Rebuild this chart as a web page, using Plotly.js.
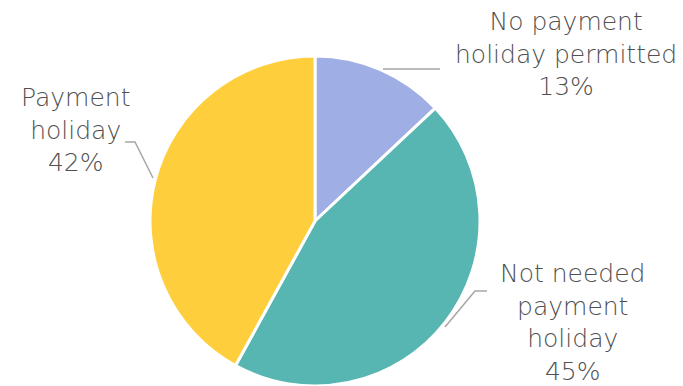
<!DOCTYPE html>
<html>
<head>
<meta charset="utf-8">
<script src="https://cdn.plot.ly/plotly-3.0.1.min.js"></script>
<style>html,body{margin:0;padding:0;background:#fff;}#chart{width:683px;height:386px;}</style>
</head>
<body>
<div id="chart"></div>
<script>
var categories = ["No payment holiday permitted", "Not needed payment holiday", "Payment holiday"];
var labelLines = ["No payment<br>holiday permitted", "Not needed<br>payment<br>holiday", "Payment<br>holiday"];
var values = [13, 45, 42];
var colors = ["#9FAEE5", "#58B6B2", "#FFCE3D"];

var W = 683, H = 386;
function px(x){ return x / W; }
function py(y){ return 1 - y / H; }

var pct = values.map(function(v){
  var t = values.reduce(function(a,b){return a+b;},0);
  return Math.round(v / t * 100) + "%";
});

var labelPos = [
  {x: 566, y: 54},
  {x: 572, y: 322},
  {x: 75, y: 130}
];

var annotations = categories.map(function(c, i){
  return {
    xref: "paper", yref: "paper",
    x: px(labelPos[i].x), y: py(labelPos[i].y),
    xanchor: "center", yanchor: "middle",
    text: labelLines[i] + "<br>" + pct[i],
    showarrow: false, align: "center",
    font: {family: "'DejaVu Sans', sans-serif", size: 25, weight: 200, color: "#505050"}
  };
});

var leaders = [
  [[383,69],[440,69]],
  [[445,327],[475,291],[487,291]],
  [[125,142],[135,142],[153,178]]
];
var shapes = leaders.map(function(pts){
  var d = pts.map(function(p, k){ return (k ? "L" : "M") + px(p[0]) + "," + py(p[1]); }).join(" ");
  return {type: "path", xref: "paper", yref: "paper", path: d, line: {color: "#A6A6A6", width: 1.5}};
});

var trace = {
  type: "pie",
  labels: categories,
  values: values,
  sort: false,
  direction: "clockwise",
  rotation: 0,
  marker: {colors: colors, line: {color: "#ffffff", width: 3}},
  textinfo: "none",
  hoverinfo: "label+percent",
  domain: {x: [px(150), px(480)], y: [py(386), py(56)]},
  showlegend: false
};

var layout = {
  width: W, height: H,
  margin: {l: 0, r: 0, t: 0, b: 0},
  paper_bgcolor: "#ffffff",
  showlegend: false,
  annotations: annotations,
  shapes: shapes
};

Plotly.newPlot("chart", [trace], layout, {displayModeBar: false, staticPlot: true});
</script>
</body>
</html>
